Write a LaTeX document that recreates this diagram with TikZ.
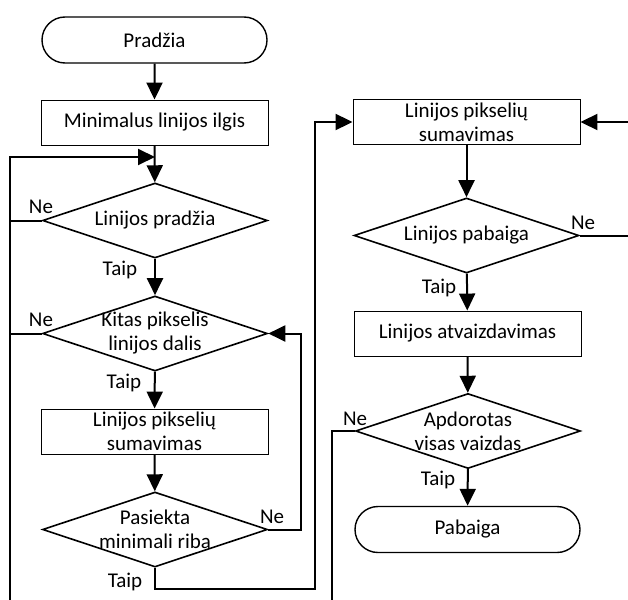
\documentclass[tikz,border=0pt]{standalone}
\usepackage{fontspec}
\setmainfont{Carlito}
\usetikzlibrary{arrows.meta,shapes.misc,shapes.geometric}

\begin{document}
\begin{tikzpicture}[
  x=1pt, y=-1pt,
  every node/.style={inner sep=1pt, font=\fontsize{21}{24}\selectfont},
  term/.style={rounded rectangle, draw, line width=1.4pt, minimum width=227pt, minimum height=46pt},
  proc/.style={rectangle, draw, line width=0.9pt, minimum width=227pt, minimum height=45pt, align=center},
  % decision text is a centre label, so the diamond keeps its size
  dec/.style={diamond, draw, line width=1.6pt, minimum width=225pt, minimum height=75pt,
    inner sep=0pt, label={[align=center]center:#1}},
  wire/.style={draw, line width=2pt},
  arrow/.style={wire, -{Triangle[length=17pt,width=16pt]}},
  lbl/.style={anchor=base}]

  \clip (0,0) rectangle (628,599);

  % left column
  \node[term] (start)  at (154.5, 40)    {Pradžia};
  \node[proc] (minlen) at (154.5,122.5)  {Minimalus linijos ilgis};
  \node[dec={Linijos pradžia}]             (first) at (155,220.5) {};
  \node[dec={Kitas pikselis\\linijos dalis}] (next)  at (155,333.5) {};
  \node[proc] (sumA)   at (154.5,431.5)  {Linijos pikselių\\sumavimas};
  \node[dec={Pasiekta\\minimali riba}]     (reach) at (155,529.5) {};

  % right column
  \node[proc] (sumB)   at (466.5,122)    {Linijos pikselių\\sumavimas};
  \node[dec={Linijos pabaiga}]             (last)  at (466.5,235.5) {};
  \node[proc] (show)   at (467.5,333.5)  {Linijos atvaizdavimas};
  \node[dec={Apdorotas\\visas vaizdas}]    (done)  at (468,431) {};
  \node[term] (stop)   at (467.5,529.5)  {Pabaiga};

  % loose ends, the lines run past the edge
  \coordinate (join)  at (155,157);
  \coordinate (lft)   at (10,610);
  \coordinate (back)  at (315,589);
  \coordinate (rgt)   at (645,235.5);
  \coordinate (down)  at (332,610);

  % arrows
  \draw[arrow] (start)  -- (minlen);
  \draw[arrow] (minlen) -- (first);
  \draw[arrow] (lft) |- (join);
  \draw[wire]  (first.west) -- (first.west -| lft);
  \draw[wire]  (next.west)  -- (next.west -| lft);
  \draw[arrow] (first) -- (next);
  \draw[arrow] (next)  -- (sumA);
  \draw[arrow] (sumA)  -- (reach);
  \draw[arrow] (reach.east) -- ++(32.5,0) |- (next.east);
  \draw[arrow] (reach.south) |- (back) |- (sumB.west);

  \draw[arrow] (sumB)  -- (last);
  \draw[arrow] (last.east) -- (rgt) |- (sumB.east);
  \draw[arrow] (last)  -- (show);
  \draw[arrow] (show)  -- (done);
  \draw[wire]  (done.west) -| (down);
  \draw[arrow] (done)  -- (stop);

  % branch labels
  \node[lbl] (neA)   at (41,213)  {Ne};
  \node[lbl] (taipA) at (120,275) {Taip};
  \node[lbl] (neB)   at (41,326)  {Ne};
  \node[lbl] (taipB) at (124,388) {Taip};
  \node[lbl] (neC)   at (272,523) {Ne};
  \node[lbl] (taipC) at (125,587) {Taip};
  \node[lbl] (neD)   at (583,229) {Ne};
  \node[lbl] (taipD) at (439,293) {Taip};
  \node[lbl] (neE)   at (355,425) {Ne};
  \node[lbl] (taipE) at (438,485) {Taip};
\end{tikzpicture}
\end{document}
